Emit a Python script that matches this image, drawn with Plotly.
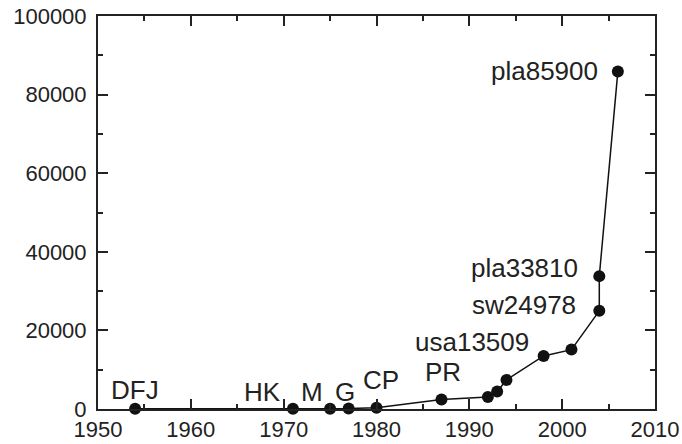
import plotly.graph_objects as go

# TSP records: year solved vs number of cities
years = [1954, 1971, 1975, 1977, 1980, 1987, 1992, 1993, 1994, 1998, 2001, 2004, 2004, 2006]
cities = [49, 64, 80, 120, 318, 2392, 3038, 4461, 7397, 13509, 15112, 24978, 33810, 85900]
labels = ["DFJ", "HK", "M", "G", "CP", "PR", "", "", "", "usa13509", "", "sw24978", "pla33810", "pla85900"]

# label placement (pixel offsets from marker, text anchor)
label_pos = {
    "DFJ": (0, 19, "center"),
    "HK": (-10, 17, "right"),
    "M": (-18, 17, "center"),
    "G": (-4, 17, "center"),
    "CP": (4, 28, "center"),
    "PR": (2, 28, "center"),
    "usa13509": (-13, 14, "right"),
    "sw24978": (-21, 6, "right"),
    "pla33810": (-19, 8, "right"),
    "pla85900": (-18, 0, "right"),
}

fig = go.Figure()
fig.add_trace(go.Scatter(
    x=years, y=cities, mode="lines+markers",
    line=dict(color="#111111", width=1.5),
    marker=dict(color="#111111", size=12),
    cliponaxis=False,
    showlegend=False,
))

for x, y, lab in zip(years, cities, labels):
    if not lab:
        continue
    dx, dy, anchor = label_pos[lab]
    fig.add_annotation(
        x=x, y=y, text=lab, showarrow=False,
        xanchor=anchor, yanchor="middle",
        xshift=dx, yshift=dy,
        font=dict(size=26, color="#222222"),
    )

axis_style = dict(
    showline=True, linecolor="#222222", linewidth=2, mirror="ticks",
    ticks="inside", ticklen=10, tickwidth=1.5, tickcolor="#222222",
    showgrid=False, zeroline=False, automargin=False,
    tickfont=dict(size=22, color="#222222"),
)

fig.update_xaxes(range=[1950, 2010], dtick=10, tick0=1950,
                 minor=dict(ticks="inside", ticklen=5, dtick=5, tickcolor="#222222", tickwidth=1.5),
                 **axis_style)
fig.update_yaxes(range=[0, 100000], dtick=20000, tickformat="d",
                 minor=dict(ticks="inside", ticklen=5, dtick=10000, tickcolor="#222222", tickwidth=1.5),
                 ticklabelstandoff=5,
                 **axis_style)

fig.update_layout(
    width=682, height=444,
    margin=dict(l=98, r=27, t=16, b=35),
    plot_bgcolor="white", paper_bgcolor="white",
    font=dict(family="Liberation Sans, Arial, sans-serif"),
)

# drop the default page margin so the figure sits at the window's corner
fig.write_html("out.html", config={"displayModeBar": False},
               post_script="document.body.style.margin='0px';")
